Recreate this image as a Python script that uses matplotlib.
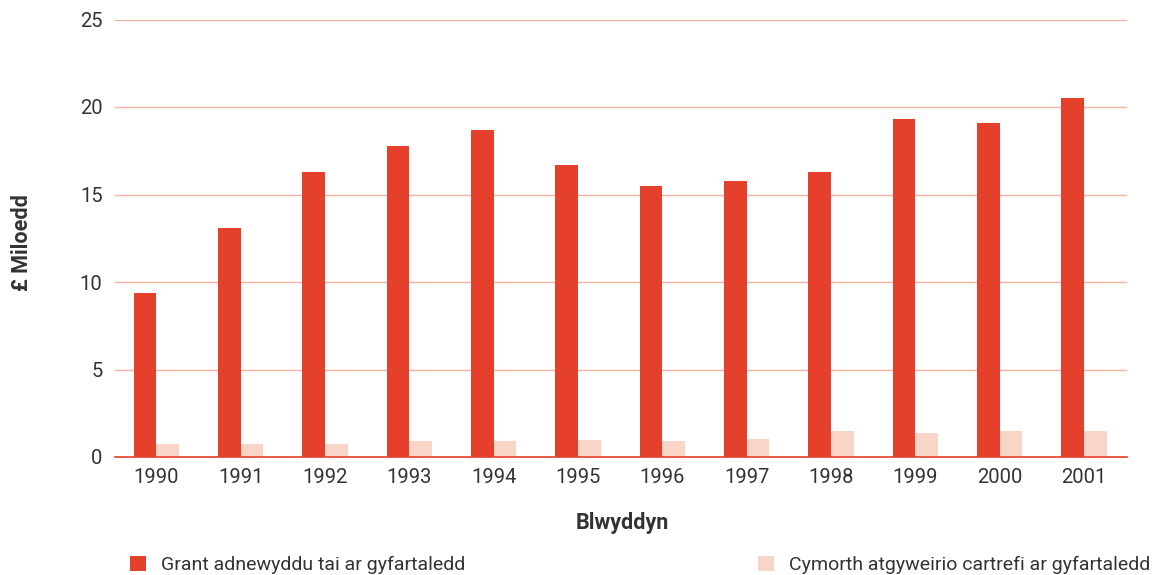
import numpy as np
import matplotlib
matplotlib.use("Agg")
import matplotlib.pyplot as plt

# values (thousands of pounds)
years = ["1990", "1991", "1992", "1993", "1994", "1995",
         "1996", "1997", "1998", "1999", "2000", "2001"]
grant = [9.4, 13.1, 16.3, 17.8, 18.7, 16.7, 15.5, 15.8, 16.3, 19.3, 19.1, 20.5]
cymorth = [0.75, 0.75, 0.75, 0.9, 0.9, 0.95, 0.9, 1.05, 1.5, 1.35, 1.5, 1.5]

label_grant = "Grant adnewyddu tai ar gyfartaledd"
label_cymorth = "Cymorth atgyweirio cartrefi ar gyfartaledd"

red = "#e5402b"
pink = "#f8d5c6"
grid = "#f6b3a3"
txt = "#333333"

plt.rcParams["font.family"] = ["Roboto", "DejaVu Sans"]

fig = plt.figure(figsize=(11.57, 5.75), dpi=100)
ax = fig.add_axes([115 / 1157, 1 - 457 / 575, 1012 / 1157, 437.5 / 575])

x = np.arange(len(years))
w = 0.27
b1 = ax.bar(x - w / 2, grant, w, color=red, label=label_grant, zorder=3)
b2 = ax.bar(x + w / 2, cymorth, w, color=pink, label=label_cymorth, zorder=3)

ax.set_xlim(-0.49, len(years) - 0.49)
ax.set_ylim(0, 25)
ax.set_yticks([0, 5, 10, 15, 20, 25])
ax.set_xticks(x)
ax.set_xticklabels(years)
ax.tick_params(length=0, labelsize=14.5, colors=txt)
ax.tick_params(axis="y", pad=9)
ax.tick_params(axis="x", pad=8)

for s in ["top", "right", "left"]:
    ax.spines[s].set_visible(False)
ax.spines["bottom"].set_color(red)
ax.spines["bottom"].set_linewidth(1.2)
ax.spines["bottom"].set_zorder(4)

ax.yaxis.grid(True, color=grid, linewidth=1)
ax.set_axisbelow(True)

fig.text(22 / 1157, 1 - 243 / 575, "£ Miloedd", rotation=90, ha="center", va="center",
         fontsize=15.5, fontweight="bold", color=txt)
fig.text(622 / 1157, 1 - 523 / 575, "Blwyddyn", ha="center", va="center",
         fontsize=15.5, fontweight="bold", color=txt)

# legend entries, one per column like the original
for handle, lab, xpos in [(b1, label_grant, 130), (b2, label_cymorth, 758)]:
    lg = fig.legend([handle], [lab], loc="center left",
                    bbox_to_anchor=(xpos / 1157, 1 - 565 / 575),
                    frameon=False, fontsize=14, handlelength=0.8, handleheight=0.8,
                    handletextpad=0.8, borderpad=0, borderaxespad=0)
    for t in lg.get_texts():
        t.set_color(txt)

fig.savefig("out.png", dpi=100)
